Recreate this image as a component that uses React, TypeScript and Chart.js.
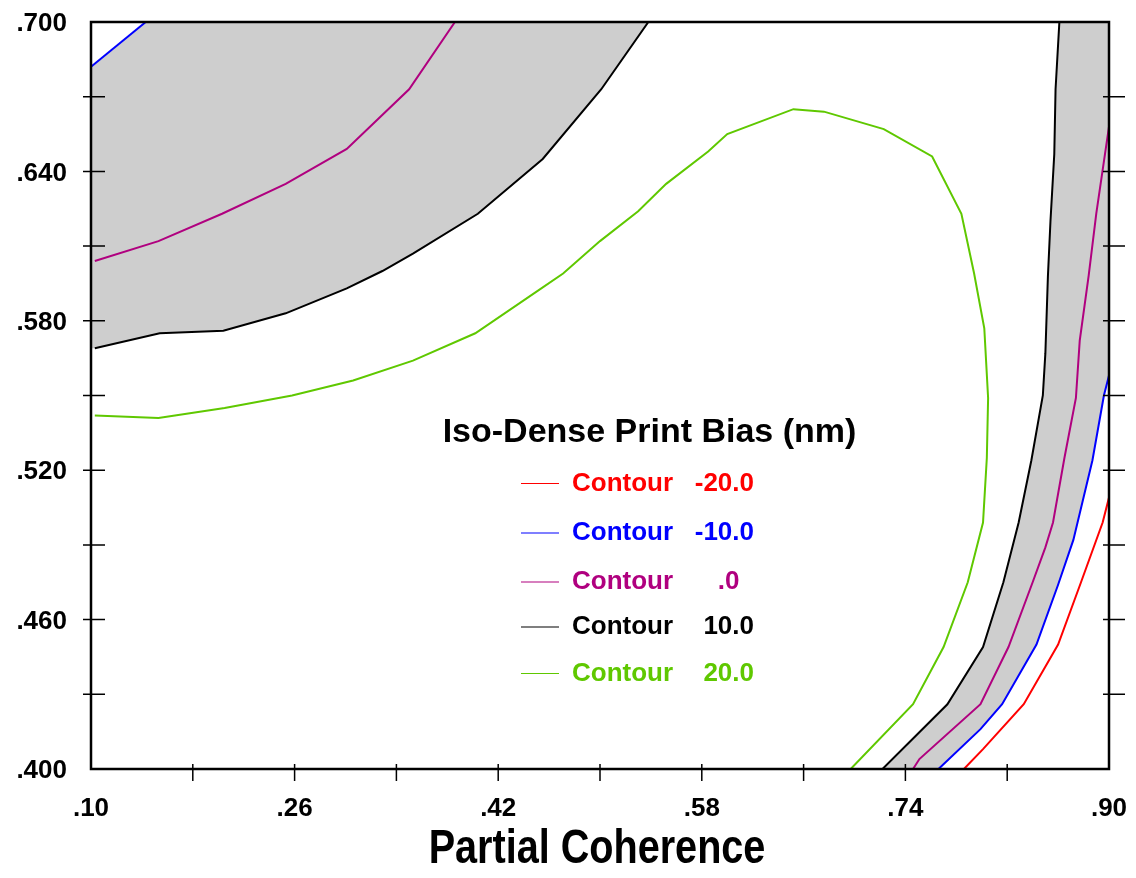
import React, { useEffect, useRef } from 'react';
import { Chart, registerables } from 'chart.js';

Chart.register(...registerables);

// ---- axes ----
const X_MIN = 0.1;
const X_MAX = 0.9;
const X_STEP = 0.08;
const Y_MIN = 0.4;
const Y_MAX = 0.7;
const Y_STEP = 0.03;
const X_TITLE = 'Partial Coherence';
const LEGEND_TITLE = 'Iso-Dense Print Bias (nm)';

// ---- colours ----
const RED = '#ff0000';
const BLUE = '#0000ff';
const MAGENTA = '#b0007f';
const BLACK = '#000000';
const GREEN = '#5fc800';
const GRAY = '#cecece';

// ---- contour 20.0 (green) ----
const c20X = [0.103, 0.153, 0.205, 0.258, 0.306, 0.353, 0.402, 0.451, 0.471, 0.500, 0.530, 0.552, 0.585, 0.600, 0.652, 0.676, 0.723, 0.761, 0.784, 0.794, 0.802, 0.805, 0.804, 0.801, 0.789, 0.770, 0.746, 0.697];
const c20Y = [0.542, 0.541, 0.545, 0.550, 0.556, 0.564, 0.575, 0.592, 0.599, 0.612, 0.624, 0.635, 0.648, 0.655, 0.665, 0.664, 0.657, 0.646, 0.623, 0.599, 0.577, 0.549, 0.525, 0.499, 0.475, 0.449, 0.426, 0.400];

// ---- contour 10.0 (black) ----
const c10aX = [0.103, 0.154, 0.204, 0.253, 0.301, 0.329, 0.353, 0.404, 0.455, 0.501, 0.538];
const c10aY = [0.569, 0.575, 0.576, 0.583, 0.593, 0.600, 0.607, 0.623, 0.645, 0.673, 0.700];
const c10bX = [0.861, 0.858, 0.857, 0.854, 0.852, 0.850, 0.848, 0.839, 0.829, 0.817, 0.801, 0.773, 0.722];
const c10bY = [0.700, 0.673, 0.647, 0.620, 0.598, 0.567, 0.550, 0.524, 0.499, 0.475, 0.449, 0.426, 0.400];

// ---- contour .0 (magenta) ----
const c0aX = [0.103, 0.153, 0.203, 0.253, 0.301, 0.350, 0.386];
const c0aY = [0.604, 0.612, 0.623, 0.635, 0.649, 0.673, 0.700];
const c0bX = [0.900, 0.890, 0.884, 0.877, 0.874, 0.865, 0.856, 0.850, 0.840, 0.821, 0.799, 0.751, 0.746];
const c0bY = [0.658, 0.623, 0.598, 0.572, 0.549, 0.525, 0.499, 0.489, 0.475, 0.449, 0.426, 0.404, 0.400];

// ---- contour -10.0 (blue) ----
const cm10aX = [0.100, 0.143];
const cm10aY = [0.682, 0.700];
const cm10bX = [0.900, 0.896, 0.887, 0.872, 0.860, 0.843, 0.816, 0.799, 0.766];
const cm10bY = [0.558, 0.550, 0.524, 0.492, 0.474, 0.450, 0.426, 0.416, 0.400];

// ---- contour -20.0 (red) ----
const cm20X = [0.900, 0.895, 0.878, 0.860, 0.833, 0.801, 0.786];
const cm20Y = [0.509, 0.499, 0.475, 0.450, 0.426, 0.408, 0.400];

// ---- legend ----
const legendLabels = ['Contour', 'Contour', 'Contour', 'Contour', 'Contour'];
const legendValues = ['-20.0', '-10.0', '.0  ', '10.0', '20.0'];
const legendColors = [RED, BLUE, MAGENTA, BLACK, GREEN];

type P = { x: number; y: number };
const pts = (xs: number[], ys: number[]): P[] => xs.map((x, i) => ({ x, y: ys[i] }));

// band between contour 10 and contour -10 (top-left)
const bandA: P[] = [
  { x: X_MIN, y: c10aY[0] },
  ...pts(c10aX, c10aY),
  ...pts(cm10aX, cm10aY).reverse(),
];
// band between contour 10 and contour -10 (right)
const bandB: P[] = [
  ...pts(c10bX, c10bY),
  ...pts(cm10bX, cm10bY).reverse(),
  { x: X_MAX, y: Y_MAX },
];

const FONT = '"Liberation Sans", Arial, Helvetica, sans-serif';

const line = (data: P[], color: string) => ({
  type: 'scatter' as const,
  data,
  showLine: true,
  borderColor: color,
  backgroundColor: color,
  borderWidth: 2,
  pointRadius: 0,
  fill: false,
  tension: 0,
  order: 1,
});

const band = (data: P[]) => ({
  type: 'scatter' as const,
  data,
  showLine: true,
  borderColor: 'rgba(0,0,0,0)',
  backgroundColor: GRAY,
  borderWidth: 0,
  pointRadius: 0,
  fill: 'shape',
  tension: 0,
  order: 10,
});

const zeroPad = (s: any) => {
  s.paddingTop = 0;
  s.paddingBottom = 0;
  s.paddingLeft = 0;
  s.paddingRight = 0;
};

const framePlugin = {
  id: 'frameTicks',
  afterDatasetsDraw(chart: any) {
    const { ctx, chartArea: a, scales } = chart;
    const xs = scales.x;
    const ys = scales.y;
    ctx.save();
    ctx.strokeStyle = '#000';
    ctx.lineWidth = 1.5;
    ctx.beginPath();
    xs.ticks.forEach((t: any) => {
      if (t.value <= X_MIN + 1e-6 || t.value >= X_MAX - 1e-6) return;
      const p = xs.getPixelForValue(t.value);
      ctx.moveTo(p, a.bottom - 5);
      ctx.lineTo(p, a.bottom + 12);
    });
    ys.ticks.forEach((t: any) => {
      if (t.value <= Y_MIN + 1e-6 || t.value >= Y_MAX - 1e-6) return;
      const p = ys.getPixelForValue(t.value);
      ctx.moveTo(a.left - 8, p);
      ctx.lineTo(a.left + 14, p);
      ctx.moveTo(a.right - 6, p);
      ctx.lineTo(a.right + 16, p);
    });
    ctx.stroke();
    ctx.lineWidth = 2.5;
    ctx.strokeRect(a.left, a.top, a.right - a.left, a.bottom - a.top);
    ctx.restore();
  },
  afterDraw(chart: any) {
    const { ctx, chartArea: a } = chart;
    ctx.save();
    // x-axis title (condensed bold)
    ctx.fillStyle = '#000';
    ctx.font = `bold 48px ${FONT}`;
    ctx.textAlign = 'center';
    ctx.textBaseline = 'alphabetic';
    ctx.translate((a.left + a.right) / 2 - 3, 863);
    ctx.scale(0.825, 1);
    ctx.fillText(X_TITLE, 0, 0);
    ctx.restore();

    // legend
    ctx.save();
    ctx.textBaseline = 'middle';
    ctx.fillStyle = '#000';
    ctx.font = `bold 34px ${FONT}`;
    ctx.textAlign = 'center';
    ctx.fillText(LEGEND_TITLE, 649.5, 433);
    const rows = [483.5, 533, 582, 627, 673.5];
    ctx.font = `bold 26px ${FONT}`;
    legendLabels.forEach((lab, i) => {
      const y = rows[i];
      ctx.strokeStyle = legendColors[i];
      ctx.lineWidth = 1.2;
      ctx.beginPath();
      ctx.moveTo(521, y);
      ctx.lineTo(559, y);
      ctx.stroke();
      ctx.fillStyle = legendColors[i];
      ctx.textAlign = 'left';
      ctx.fillText(lab, 572, y);
      ctx.textAlign = 'right';
      ctx.fillText(legendValues[i], 754, y);
    });
    ctx.restore();
  },
};

export default function App() {
  const ref = useRef<HTMLCanvasElement | null>(null);

  useEffect(() => {
    if (!ref.current) return;
    const chart = new Chart(ref.current, {
      type: 'scatter',
      data: {
        datasets: [
          band(bandA),
          band(bandB),
          line(pts(c20X, c20Y), GREEN),
          line(pts(c10aX, c10aY), BLACK),
          line(pts(c10bX, c10bY), BLACK),
          line(pts(c0aX, c0aY), MAGENTA),
          line(pts(c0bX, c0bY), MAGENTA),
          line(pts(cm10aX, cm10aY), BLUE),
          line(pts(cm10bX, cm10bY), BLUE),
          line(pts(cm20X, cm20Y), RED),
        ] as any,
      },
      options: {
        animation: false,
        responsive: false,
        devicePixelRatio: 1,
        events: [],
        layout: { padding: { top: 22, right: 27, left: 0, bottom: 0 } },
        plugins: {
          legend: { display: false },
          tooltip: { enabled: false },
        },
        scales: {
          x: {
            type: 'linear',
            position: 'bottom',
            min: X_MIN,
            max: X_MAX,
            grid: { display: false, drawTicks: false },
            border: { display: false },
            afterFit: (s: any) => { s.height = 109; zeroPad(s); },
            ticks: {
              stepSize: X_STEP,
              autoSkip: false,
              maxRotation: 0,
              padding: 24,
              color: '#000',
              font: { family: FONT, size: 26, weight: 'bold' },
              callback: (v: any, i: number) =>
                i % 2 === 0 ? Number(v).toFixed(2).replace(/^0/, '') : '',
            },
          },
          y: {
            type: 'linear',
            position: 'left',
            min: Y_MIN,
            max: Y_MAX,
            grid: { display: false, drawTicks: false },
            border: { display: false },
            afterFit: (s: any) => { s.width = 91; zeroPad(s); },
            ticks: {
              stepSize: Y_STEP,
              autoSkip: false,
              padding: 24,
              labelOffset: 2,
              color: '#000',
              font: { family: FONT, size: 26, weight: 'bold' },
              callback: (v: any, i: number) =>
                i % 2 === 0 ? Number(v).toFixed(3).replace(/^0/, '') : '',
            },
          },
        },
      } as any,
      plugins: [framePlugin],
    });
    return () => chart.destroy();
  }, []);

  return (
    <div style={{ position: 'fixed', left: 0, top: 0, width: 1136, height: 878, background: '#fff' }}>
      <canvas ref={ref} width={1136} height={878} style={{ display: 'block' }} />
    </div>
  );
}
